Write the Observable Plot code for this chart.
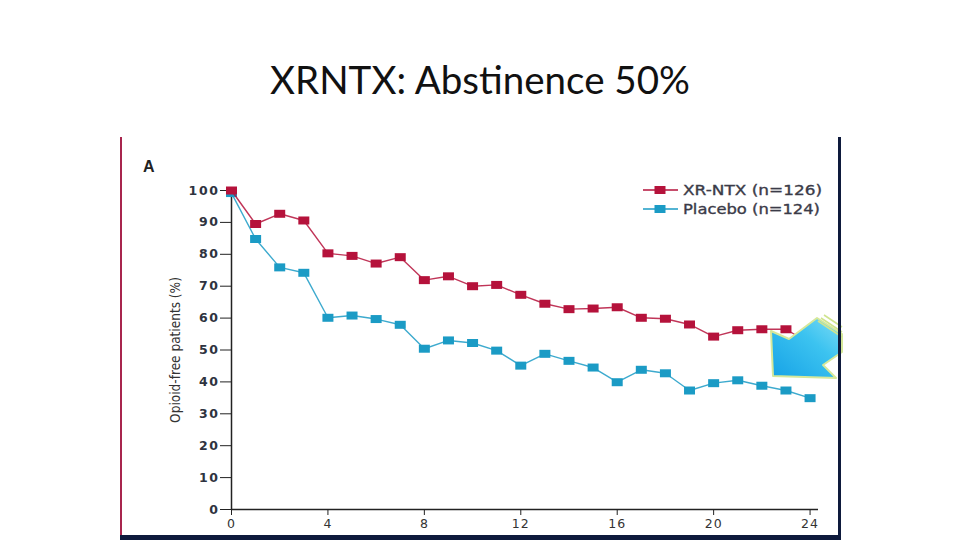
<!DOCTYPE html>
<html>
<head>
<meta charset="utf-8">
<script src="https://cdn.jsdelivr.net/npm/d3@7"></script>
<script src="https://cdn.jsdelivr.net/npm/@observablehq/plot@0.6"></script>
<style>
html, body { margin: 0; padding: 0; background: #fff; }
#page { position: relative; width: 960px; height: 540px; overflow: hidden; background: #fff; }
#fig { position: absolute; left: 120px; top: 137px; width: 720px; height: 403px; background: #fff; }
#overlay { position: absolute; left: 0; top: 0; pointer-events: none; }
#fig svg g[aria-label="y-axis tick label"] { font-family: "DejaVu Sans", sans-serif; font-weight: bold; font-size: 12.5px; letter-spacing: 1.6px; fill: #2e3340; }
#fig svg g[aria-label="x-axis tick label"] { font-family: "DejaVu Sans", sans-serif; font-size: 12.5px; letter-spacing: 1px; fill: #333; }
</style>
</head>
<body>
<div id="page">
  <div id="fig"></div>
  <svg id="overlay" width="960" height="540" xmlns="http://www.w3.org/2000/svg"></svg>
</div>
<script>
// ---- data ----
const weeks = [0, 1, 2, 3, 4, 5, 6, 7, 8, 9, 10, 11, 12, 13, 14, 15, 16, 17, 18, 19, 20, 21, 22, 23, 24];
const xrntxValues = [100, 89.5, 92.7, 90.6, 80.3, 79.5, 77.1, 79.1, 71.9, 73.1, 70.0, 70.4, 67.3, 64.5, 62.8, 63.0, 63.4, 60.1, 59.8, 58.0, 54.2, 56.2, 56.5, 56.5, 52.0];
const placeboValues = [99.2, 84.8, 75.9, 74.2, 60.1, 60.8, 59.7, 57.9, 50.4, 53.0, 52.2, 49.8, 45.1, 48.8, 46.6, 44.5, 39.9, 43.8, 42.7, 37.3, 39.6, 40.5, 38.8, 37.3, 34.9];
const seriesNames = ["XR-NTX (n=126)", "Placebo (n=124)"];
const seriesColors = ["#b5123b", "#1b9bc5"];
const xTicks = [0, 4, 8, 12, 16, 20, 24];
const yTicks = [0, 10, 20, 30, 40, 50, 60, 70, 80, 90, 100];
const yLabel = "Opioid-free patients (%)";
const titleText = "XRNTX: Abstinence 50%";
const panelLetter = "A";

const xrntxRows = weeks.map((w, i) => ({week: w, value: xrntxValues[i]}));
const placeboRows = weeks.map((w, i) => ({week: w, value: placeboValues[i]}));

const rectSymbol = { draw(ctx) { const w = 11, h = 8; ctx.rect(-w / 2, -h / 2, w, h); } };

const chart = Plot.plot({
  width: 720,
  height: 403,
  marginLeft: 111,
  marginRight: 22,
  marginTop: 53,
  marginBottom: 31,
  x: {domain: [0, 24.35]},
  y: {domain: [0, 100]},
  style: {background: "transparent", color: "#222", overflow: "visible"},
  marks: [
    Plot.axisY({ticks: yTicks, tickSize: 11, tickPadding: 1, label: null}),
    Plot.axisX({ticks: xTicks, tickSize: 6, tickPadding: 4, label: null}),
    Plot.ruleX([0], {y1: 0, y2: 100, stroke: "#222", strokeWidth: 1.5}),
    Plot.ruleY([0], {x1: 0, x2: 24.35, stroke: "#222", strokeWidth: 1.5}),
    Plot.line(placeboRows, {x: "week", y: "value", stroke: seriesColors[1], strokeWidth: 1.4, strokeOpacity: 0.85}),
    Plot.dot(placeboRows, {x: "week", y: "value", fill: seriesColors[1], symbol: rectSymbol, r: 5}),
    Plot.line(xrntxRows, {x: "week", y: "value", stroke: seriesColors[0], strokeWidth: 1.4, strokeOpacity: 0.85}),
    Plot.dot(xrntxRows, {x: "week", y: "value", fill: seriesColors[0], symbol: rectSymbol, r: 5}),
    Plot.text([yLabel], {frameAnchor: "left", textAnchor: "middle", rotate: -90, dx: -56, fontSize: 13.5, fill: "#333",
      fontFamily: "'Liberation Sans Narrow', 'DejaVu Sans Condensed', sans-serif"})
  ]
});
document.getElementById("fig").appendChild(chart);

// ---- decorations: title, panel letter, legend, frame, arrow ----
const svg = d3.select("#overlay");
const defs = svg.append("defs");
const grad = defs.append("linearGradient").attr("id", "arrowGrad")
  .attr("x1", "0").attr("y1", "1").attr("x2", "1").attr("y2", "0");
grad.append("stop").attr("offset", "0").attr("stop-color", "#16a2e6");
grad.append("stop").attr("offset", "0.6").attr("stop-color", "#3cc3f0");
grad.append("stop").attr("offset", "1").attr("stop-color", "#7fdcf5");

svg.append("text").attr("x", 480).attr("y", 94).attr("text-anchor", "middle")
  .attr("font-family", "Lato, 'Open Sans', sans-serif").attr("font-size", 39)
  .attr("font-weight", 400).attr("fill", "#111")
  .attr("textLength", 420).attr("lengthAdjust", "spacingAndGlyphs")
  .text(titleText);

svg.append("text").attr("x", 143).attr("y", 172)
  .attr("font-family", "'Liberation Sans', Arial, sans-serif").attr("font-size", 16)
  .attr("font-weight", "bold").attr("fill", "#222").text(panelLetter);

// legend
const legendY = [190, 209];
seriesNames.forEach((name, i) => {
  const g = svg.append("g");
  g.append("line").attr("x1", 643).attr("x2", 678).attr("y1", legendY[i]).attr("y2", legendY[i])
    .attr("stroke", seriesColors[i]).attr("stroke-width", 1.5);
  g.append("rect").attr("x", 654.5).attr("y", legendY[i] - 4).attr("width", 11).attr("height", 8)
    .attr("fill", seriesColors[i]);
  g.append("text").attr("x", 683).attr("y", legendY[i] + 5)
    .attr("font-family", "'DejaVu Sans', sans-serif").attr("font-size", 14)
    .attr("font-weight", 400).attr("fill", "#3b3b48")
    .attr("stroke", "#3b3b48").attr("stroke-width", 0.35)
    .attr("textLength", i === 0 ? 139 : 137).attr("lengthAdjust", "spacingAndGlyphs")
    .text(name);
});

// arrow annotation
svg.append("path")
  .attr("d", "M773,376 L771,331 L789,339 L817,318 L842,334 L842,352 L823,365 L836,378 Z")
  .attr("fill", "url(#arrowGrad)").attr("stroke", "#d6e89a").attr("stroke-width", 2)
  .attr("stroke-linejoin", "round");
[[818, 321, 842, 337], [821, 318, 842, 332], [824, 315, 842, 327]].forEach(s => {
  svg.append("line").attr("x1", s[0]).attr("y1", s[1]).attr("x2", s[2]).attr("y2", s[3])
    .attr("stroke", "#cfe48e").attr("stroke-width", 1.6);
});

// frame edges of the pasted figure
svg.append("rect").attr("x", 120).attr("y", 137).attr("width", 2).attr("height", 398).attr("fill", "#a8254d");
svg.append("rect").attr("x", 838).attr("y", 137).attr("width", 3).attr("height", 403).attr("fill", "#0e1a3c");
svg.append("rect").attr("x", 120).attr("y", 535).attr("width", 721).attr("height", 5).attr("fill", "#0e1a3c");
</script>
</body>
</html>
